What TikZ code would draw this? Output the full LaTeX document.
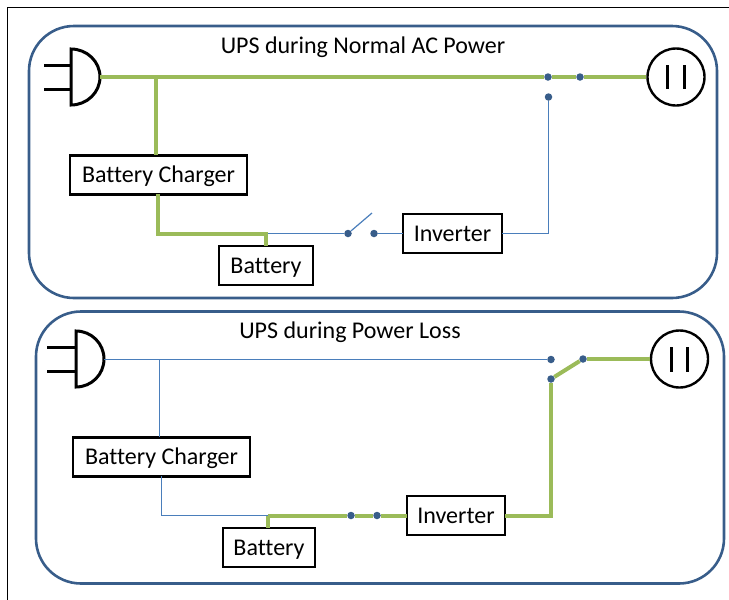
\documentclass[tikz,border=0pt]{standalone}
\usepackage{fontspec}
\setmainfont[Ligatures=NoCommon]{Carlito}
\definecolor{panelblue}{HTML}{385D8A}
\definecolor{wireblue}{HTML}{4A7EBB}
\definecolor{powergreen}{HTML}{9BBB59}
\begin{document}
\begin{tikzpicture}[x=1pt,y=-1pt,
  panel/.style={draw=panelblue,line width=2.6pt,rounded corners=45pt,minimum width=688pt,minimum height=272pt,inner sep=0pt},
  block/.style={draw=black,line width=2.4pt,inner sep=0pt,text height=18pt,text depth=3pt,font=\fontsize{24}{28}\selectfont},
  contact/.style={circle,fill=panelblue,inner sep=0pt,minimum size=7.5pt},
  outlet/.style={circle,draw=black,line width=2.4pt,inner sep=0pt,minimum size=57pt},
  title/.style={inner sep=0pt,text height=18pt,text depth=3pt,font=\fontsize{24}{28}\selectfont},
  wire/.style={draw=wireblue,line width=1.2pt},
  power/.style={draw=powergreen,line width=4pt},
  stroke/.style={draw=black,line width=3pt}]
  \useasboundingbox (0,0) rectangle (729,600);
  \coordinate (c1) at (7,600);
  \coordinate (c2) at (7,7);
  \coordinate (c3) at (729,7);
  \draw[black,line width=1pt] (c1) -- (c2) -- (c3);

  % normal AC power
  \node[panel] (p1) at (373,162) {};
  \node[title] (t1) at (363,46) {UPS during Normal AC Power};
  \node[block,minimum width=177pt,minimum height=39pt] (2) at (158.5,175) {Battery Charger};
  \node[block,minimum width=94pt,minimum height=39pt] (3) at (266,265.5) {Battery};
  \node[block,minimum width=99pt,minimum height=39pt] (4) at (452.5,233.5) {Inverter};
  \node[outlet] (5) at (676,77) {};
  \node[contact] (6) at (348,233.5) {};
  \node[contact] (7) at (374,233.5) {};
  \node[contact] (8) at (548,77) {};
  \node[contact] (9) at (580,77) {};
  \node[contact] (10) at (548.5,97) {};
  \coordinate (1) at (100,77);
  \coordinate (a1) at (156,77);
  \coordinate (a2) at (156,155);
  \coordinate (a3) at (158,194);
  \coordinate (a4) at (266,233.5);
  \coordinate (a5) at (266,246);
  \coordinate (a6) at (372,213);
  \coordinate (a7) at (403,233.5);
  \coordinate (a8) at (502,233.5);
  \coordinate (a9) at (667,65);
  \coordinate (a10) at (667,89);
  \coordinate (a11) at (684,65);
  \coordinate (a12) at (684,89);

  \draw[stroke] (71,49) arc[start angle=-90,end angle=90,x radius=29pt,y radius=-28pt] -- cycle;
  \draw[stroke] (44,65) -- (71,65);
  \draw[stroke] (44,89) -- (71,89);
  \draw[stroke] (a9) -- (a10);
  \draw[stroke] (a11) -- (a12);

  \path[wire]
   (a4) edge (6)
   (6) edge (a6)
   (7) edge (a7)
   (a8) -| (10);
  \path[power]
   (1) edge (8)
   (8) edge (9)
   (9) edge (5)
   (a1) edge (a2);
  \draw[power] (a3) |- (a4) -- (a5);

  % power loss
  \node[panel] (p2) at (380,447.5) {};
  \node[title] (t2) at (350,331) {UPS during Power Loss};
  \node[block,minimum width=177pt,minimum height=39pt] (12) at (161.5,457) {Battery Charger};
  \node[block,minimum width=92pt,minimum height=39pt] (13) at (269,547.5) {Battery};
  \node[block,minimum width=98pt,minimum height=39pt] (14) at (456,515.5) {Inverter};
  \node[outlet] (15) at (679.5,359) {};
  \node[contact] (16) at (351,515.5) {};
  \node[contact] (17) at (377,515.5) {};
  \node[contact] (18) at (551,359.5) {};
  \node[contact] (19) at (583,359) {};
  \node[contact] (20) at (551,379) {};
  \coordinate (11) at (104,359.5);
  \coordinate (b1) at (159.5,359.5);
  \coordinate (b2) at (159.5,437);
  \coordinate (b3) at (161.5,476);
  \coordinate (b4) at (268,515.5);
  \coordinate (b5) at (268,528);
  \coordinate (b7) at (407,515.5);
  \coordinate (b8) at (505,515.5);
  \coordinate (b9) at (671,347);
  \coordinate (b10) at (671,372);
  \coordinate (b11) at (687,347);
  \coordinate (b12) at (687,372);

  \draw[stroke] (76,331) arc[start angle=-90,end angle=90,x radius=28pt,y radius=-28pt] -- cycle;
  \draw[stroke] (47,347) -- (75,347);
  \draw[stroke] (47,371) -- (75,371);
  \draw[stroke] (b9) -- (b10);
  \draw[stroke] (b11) -- (b12);

  \path[wire]
   (11) edge (18)
   (b1) edge (b2);
  \draw[wire] (b3) |- (b4);
  \path[power]
   (b4) edge (16)
   (16) edge (17)
   (17) edge (b7)
   (20) edge (19)
   (19) edge (15);
  \draw[power] (b5) -- (b4);
  \draw[power] (b8) -| (20);
\end{tikzpicture}
\end{document}
